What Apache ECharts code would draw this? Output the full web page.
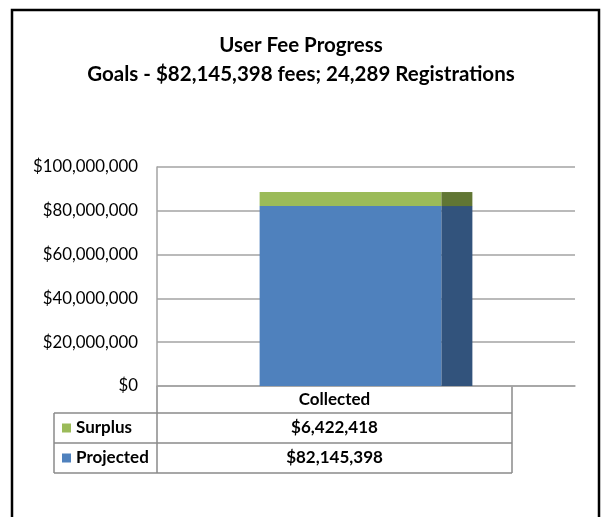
<!DOCTYPE html>
<html>
<head>
<meta charset="utf-8">
<script src="https://cdn.jsdelivr.net/npm/echarts@6/dist/echarts.min.js"></script>
<style>
  html, body { margin: 0; padding: 0; background: #ffffff; }
  #chart { width: 602px; height: 517px; }
</style>
</head>
<body>
<div id="chart"></div>
<script>
// ---- data ----
const categories = ['Collected'];
const projected = [82145398];
const surplus = [6422418];
const seriesNames = ['Surplus', 'Projected'];
const titleLines = ['User Fee Progress', 'Goals - $82,145,398 fees; 24,289 Registrations'];
const yMin = 0;
const yMax = 100000000;
const yStep = 20000000;

// ---- styling ----
const FONT = 'Lato';
const GREEN = '#9BBB59', GREEN_SIDE = '#617634';
const BLUE = '#4F81BD', BLUE_SIDE = '#32537C';
const GRID_GRAY = '#a3a3a3';
const TABLE_GRAY = '#8a8a8a';

const money = v => '$' + Math.round(v).toLocaleString('en-US');

// plot box
const G = { left: 157, top: 167, right: 575, bottom: 386 };
// data table box below the plot
const T = { left: 54, split: 157, right: 512, header: 386, row1: 413, row2: 443, bottom: 473 };

const chart = echarts.init(document.getElementById('chart'), null, { renderer: 'canvas' });

const tableLines = [
  // header cell sides
  [T.split, T.header, T.split, T.bottom],
  [T.right, T.header, T.right, T.bottom],
  // row rules
  [T.left, T.row1, T.right, T.row1],
  [T.left, T.row2, T.right, T.row2],
  [T.left, T.bottom, T.right, T.bottom],
  [T.left, T.row1, T.left, T.bottom]
].map(p => ({
  type: 'line',
  shape: { x1: p[0], y1: p[1], x2: p[2], y2: p[3] },
  style: { stroke: TABLE_GRAY, lineWidth: 1.5 },
  silent: true
}));

const cellX = (T.split + T.right) / 2;
const tableTexts = [
  { text: categories[0], y: (T.header + T.row1) / 2 },
  { text: money(surplus[0]), y: (T.row1 + T.row2) / 2 },
  { text: money(projected[0]), y: (T.row2 + T.bottom) / 2 }
].map(t => ({
  type: 'text',
  x: cellX, y: t.y,
  style: {
    text: t.text, fill: '#000', font: 'bold 17px ' + FONT,
    align: 'center', verticalAlign: 'middle'
  },
  silent: true
}));

const option = {
  animation: false,
  backgroundColor: '#ffffff',
  title: {
    text: titleLines.join('\n'),
    left: 'center',
    top: 26,
    textStyle: { fontFamily: FONT, fontWeight: 'bold', fontSize: 20.5, lineHeight: 29, color: '#000' }
  },
  legend: {
    data: seriesNames,
    orient: 'vertical',
    left: 62,
    top: T.row1,
    padding: 0,
    itemWidth: 9,
    itemHeight: 9,
    itemGap: 0,
    icon: 'rect',
    selectedMode: false,
    textStyle: { fontFamily: FONT, fontWeight: 'bold', fontSize: 17, lineHeight: 30, color: '#000' }
  },
  grid: { left: G.left, top: G.top, right: 602 - G.right, bottom: 517 - G.bottom, containLabel: false },
  xAxis: {
    type: 'category',
    data: categories,
    axisLine: { show: true, lineStyle: { color: GRID_GRAY, width: 1.5 } },
    axisTick: { show: false },
    axisLabel: { show: false }
  },
  yAxis: {
    type: 'value',
    min: yMin, max: yMax, interval: yStep,
    axisLine: { show: true, lineStyle: { color: GRID_GRAY, width: 1.5 } },
    axisTick: { show: false },
    splitLine: { show: true, lineStyle: { color: GRID_GRAY, width: 1.5 } },
    axisLabel: {
      formatter: v => money(v),
      fontFamily: FONT, fontSize: 16.8, color: '#000', margin: 19
    }
  },
  series: [
    { name: 'Projected', type: 'bar', stack: 'front', data: projected, barWidth: '43.5%', barGap: 0,
      itemStyle: { color: BLUE } },
    { name: 'Surplus', type: 'bar', stack: 'front', data: surplus, barWidth: '43.5%', barGap: 0,
      itemStyle: { color: GREEN } },
    { name: 'Projected side', type: 'bar', stack: 'side', data: projected, barWidth: '7.4%', barGap: 0,
      itemStyle: { color: BLUE_SIDE } },
    { name: 'Surplus side', type: 'bar', stack: 'side', data: surplus, barWidth: '7.4%', barGap: 0,
      itemStyle: { color: GREEN_SIDE } }
  ],
  graphic: [
    {
      type: 'rect',
      shape: { x: 12, y: 10, width: 587, height: 530 },
      style: { fill: 'none', stroke: '#000', lineWidth: 2.5 },
      silent: true, z: 100
    },
    ...tableLines,
    ...tableTexts
  ]
};

chart.setOption(option);
</script>
</body>
</html>
